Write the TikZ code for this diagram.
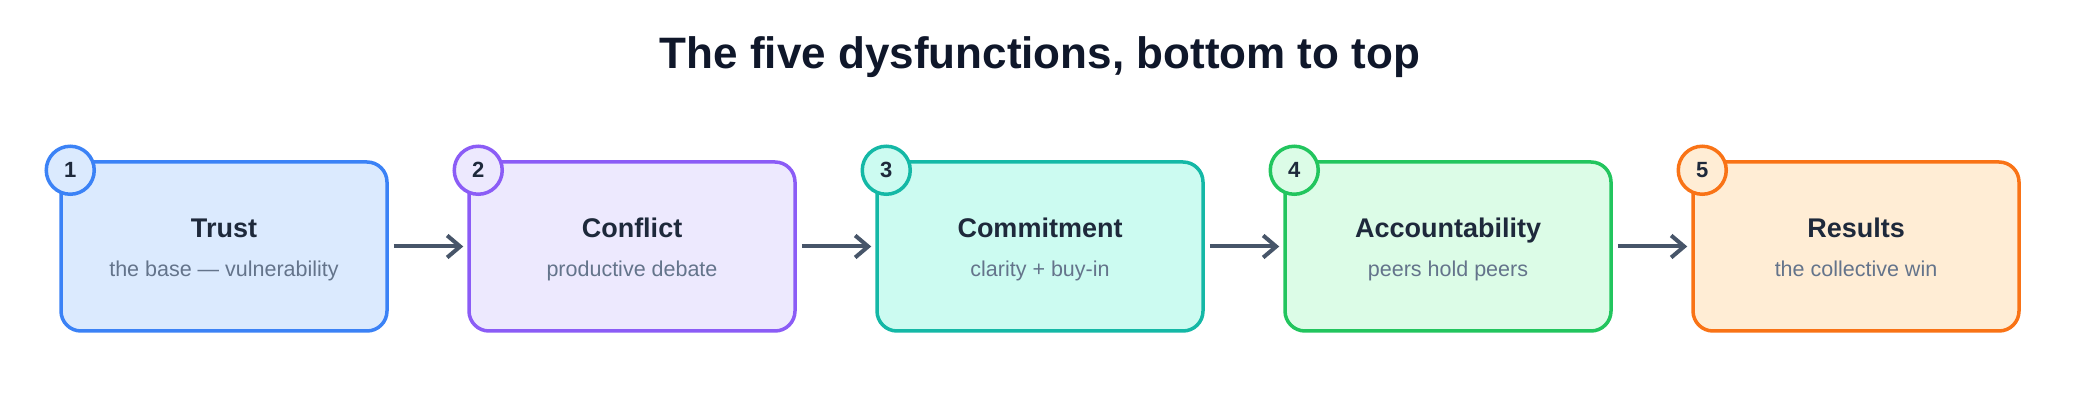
\documentclass[tikz,border=0pt]{standalone}
\usepackage{fontspec}
\setmainfont{Liberation Sans}
\usetikzlibrary{arrows.meta}
\definecolor{titlec}{HTML}{0F172A}
\definecolor{labelc}{HTML}{1E293B}
\definecolor{subc}{HTML}{64748B}
\definecolor{arrc}{HTML}{475569}
\definecolor{s1}{HTML}{3B82F6}\definecolor{f1}{HTML}{DBEAFE}
\definecolor{s2}{HTML}{8B5CF6}\definecolor{f2}{HTML}{EDE9FE}
\definecolor{s3}{HTML}{14B8A6}\definecolor{f3}{HTML}{CCFBF1}
\definecolor{s4}{HTML}{22C55E}\definecolor{f4}{HTML}{DCFCE7}
\definecolor{s5}{HTML}{F97316}\definecolor{f5}{HTML}{FFEDD5}
\tikzset{
  stagebox/.style={draw=#1, line width=3.5pt, rounded corners=20pt,
    minimum width=326pt, minimum height=169pt, inner sep=0pt},
  numcirc/.style={draw=#1, line width=3.5pt, circle, minimum size=48pt, inner sep=0pt,
    font=\fontsize{22}{26}\selectfont\bfseries, text=labelc},
  headtxt/.style={anchor=base, font=\fontsize{27}{32}\selectfont\bfseries, text=labelc},
  subtxt/.style={anchor=base, font=\fontsize{21.5}{26}\selectfont, text=subc},
  flowarr/.style={draw=arrc, line width=4pt, -{Straight Barb[length=13pt,width=22pt,line width=4pt]},
    shorten <=5pt, shorten >=4pt},
}
\begin{document}
\begin{tikzpicture}[x=1pt,y=1pt]
\useasboundingbox (0,0) rectangle (2080,420);
\fill[white] (0,0) rectangle (2080,420);
\node[anchor=base, font=\fontsize{44}{52}\selectfont\bfseries, text=titlec] (title) at (1040,351) {The five dysfunctions, bottom to top};
\foreach \i/\h/\s [count=\k from 0] in {1/Trust/the base — vulnerability, 2/Conflict/productive debate, 3/Commitment/clarity + buy-in, 4/Accountability/peers hold peers, 5/Results/the collective win}{
  \pgfmathsetmacro{\cx}{224+408*\k}
  \node[stagebox=s\i, fill=f\i] (b\i) at (\cx,173.5) {};
  \node[headtxt] (h\i) at (\cx,182) {\h};
  \node[subtxt] (t\i) at (\cx,143) {\s};
  \node[numcirc=s\i, fill=f\i] (c\i) at ([xshift=11pt,yshift=-10pt]b\i.north west) {\i};
}
\draw[flowarr] (b1.east) -- (b2.west);
\draw[flowarr] (b2.east) -- (b3.west);
\draw[flowarr] (b3.east) -- (b4.west);
\draw[flowarr] (b4.east) -- (b5.west);
\end{tikzpicture}
\end{document}
